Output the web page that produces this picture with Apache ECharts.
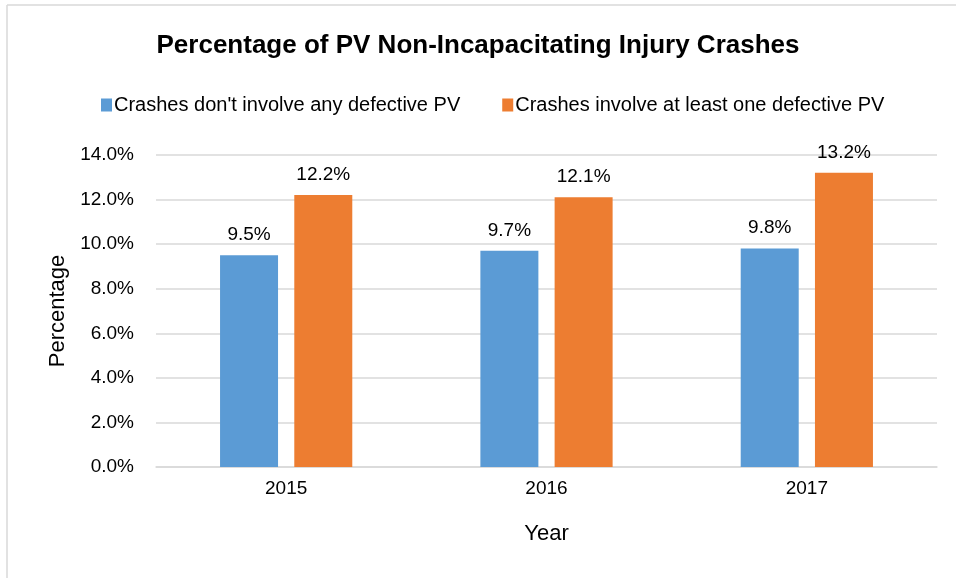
<!DOCTYPE html>
<html>
<head>
<meta charset="utf-8">
<script src="https://cdn.jsdelivr.net/npm/echarts@6/dist/echarts.min.js"></script>
<style>
  html, body { margin: 0; padding: 0; background: #fff; }
  #chart { width: 956px; height: 578px; }
</style>
</head>
<body>
<div id="chart"></div>
<script>
// chart data
const years = ['2015', '2016', '2017']
const noDefective = [9.5, 9.7, 9.8]
const withDefective = [12.2, 12.1, 13.2]
const seriesNames = ['Crashes don\'t involve any defective PV', 'Crashes involve at least one defective PV']

const font = '"Liberation Sans Narrow", "Arial Narrow", "Liberation Sans", Arial, sans-serif'

const myChart = echarts.init(document.getElementById('chart'))

const labelStyle = {
  show: true,
  position: 'top',
  distance: 11,
  fontFamily: font,
  fontSize: 19,
  color: '#000',
  formatter: p => p.value.toFixed(1) + '%',
}

const option = {
  backgroundColor: '#fff',
  animation: false,
  textStyle: { fontFamily: font },
  title: {
    text: 'Percentage of PV Non-Incapacitating Injury Crashes',
    left: 'center',
    top: 28,
    textStyle: {
      fontFamily: font,
      fontSize: 26,
      fontWeight: 'bold',
      color: '#000',
    },
  },
  legend: {
    top: 90,
    left: 96,
    itemWidth: 11,
    itemHeight: 13,
    itemGap: 42,
    icon: 'rect',
    textStyle: { fontFamily: font, fontSize: 20, color: '#000', padding: [0, 0, 0, -3] },
    data: seriesNames,
  },
  grid: {
    left: 156,
    right: 19,
    top: 155,
    bottom: 111,
  },
  // chart frame (top and left edges)
  graphic: [
    { type: 'line', shape: { x1: 7, y1: 5, x2: 956, y2: 5 }, style: { stroke: '#d9d9d9', lineWidth: 1.5 } },
    { type: 'line', shape: { x1: 7, y1: 5, x2: 7, y2: 578 }, style: { stroke: '#d9d9d9', lineWidth: 1.5 } },
  ],
  xAxis: {
    type: 'category',
    data: years,
    name: 'Year',
    nameLocation: 'middle',
    nameGap: 56,
    nameTextStyle: { fontFamily: font, fontSize: 22, color: '#000' },
    axisLine: { lineStyle: { color: '#d9d9d9', width: 1.5 } },
    axisTick: { show: false },
    axisLabel: { margin: 12, fontFamily: font, fontSize: 19, color: '#000' },
  },
  yAxis: {
    type: 'value',
    min: 0,
    max: 14,
    interval: 2,
    name: 'Percentage',
    nameLocation: 'middle',
    nameGap: 84,
    nameTextStyle: { fontFamily: font, fontSize: 22, color: '#000' },
    axisLine: { show: false },
    axisTick: { show: false },
    axisLabel: {
      margin: 22,
      fontFamily: font,
      fontSize: 19,
      color: '#000',
      formatter: v => v.toFixed(1) + '%',
    },
    splitLine: { lineStyle: { color: '#d9d9d9', width: 1.5 } },
  },
  series: [
    {
      name: seriesNames[0],
      type: 'bar',
      barWidth: 58,
      barGap: '28%',
      itemStyle: { color: '#5b9bd5' },
      label: labelStyle,
      data: noDefective,
    },
    {
      name: seriesNames[1],
      type: 'bar',
      barWidth: 58,
      barGap: '28%',
      itemStyle: { color: '#ed7d31' },
      label: labelStyle,
      data: withDefective,
    },
  ],
}

myChart.setOption(option)
</script>
</body>
</html>
